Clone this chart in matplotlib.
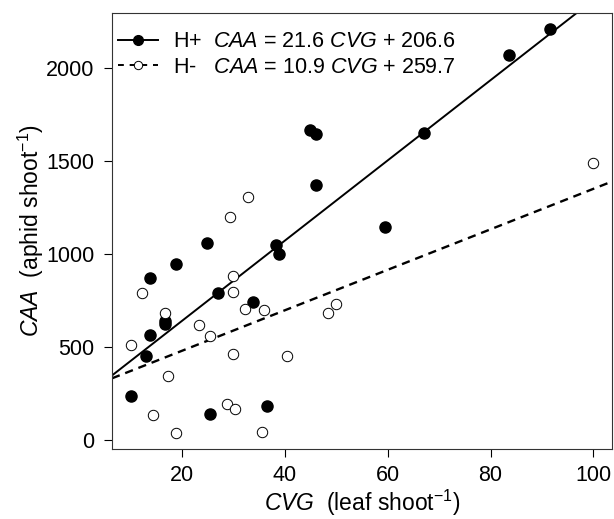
import numpy as np
import matplotlib
matplotlib.use("Agg")
from matplotlib import pyplot as plt
from matplotlib.lines import Line2D

plt.rcParams['font.family'] = ['Liberation Sans', 'DejaVu Sans']
plt.rcParams['mathtext.fontset'] = 'custom'
plt.rcParams['mathtext.rm'] = 'Liberation Sans'
plt.rcParams['mathtext.it'] = 'Liberation Sans:italic'

# H+ (filled points)
cvg_hplus = [44.8, 46.0, 46.0, 24.8, 18.8, 38.2, 38.8, 13.8, 27.1, 33.8, 16.8,
             16.8, 13.8, 13.0, 10.0, 25.5, 36.5, 91.5, 83.6, 67.0, 59.4]
caa_hplus = [1665, 1643, 1368, 1056, 943, 1049, 1000, 868, 791, 741, 639,
             621, 562, 448, 236, 138, 183, 2209, 2071, 1649, 1144]

# H- (open points)
cvg_hminus = [32.9, 29.4, 29.9, 12.3, 29.9, 32.3, 35.9, 16.8, 23.4, 25.5, 10.0,
              29.9, 40.5, 17.3, 14.4, 28.8, 30.3, 18.8, 35.5, 48.3, 49.9, 100.0]
caa_hminus = [1303, 1196, 882, 791, 793, 704, 698, 680, 616, 558, 507,
              460, 448, 340, 134, 193, 166, 36, 39, 680, 732, 1491]

# regression fits (slope, intercept)
fit_hplus = (21.6, 206.6)
fit_hminus = (10.9, 259.7)

x_ticks = [20, 40, 60, 80, 100]
y_ticks = [0, 500, 1000, 1500, 2000]

fig = plt.figure(figsize=(6.14, 5.19), dpi=100)
ax = fig.add_axes([112 / 614, 1 - 449 / 519, 500 / 614, 436 / 519])

ax.plot(cvg_hplus, caa_hplus, linestyle="none", marker="o", markersize=8,
        markerfacecolor="black", markeredgecolor="black", zorder=3)
ax.plot(cvg_hminus, caa_hminus, linestyle="none", marker="o", markersize=7.5,
        markerfacecolor="white", markeredgecolor="black", markeredgewidth=0.7, zorder=3)

ax.axline((0, fit_hplus[1]), slope=fit_hplus[0], color="black", linewidth=1.4)
ax.axline((0, fit_hminus[1]), slope=fit_hminus[0], color="black", linewidth=1.7,
          linestyle=(0, (3.5, 2.5)))

# R-style 4% axis extension
all_x = cvg_hplus + cvg_hminus
all_y = caa_hplus + caa_hminus
dx = (max(all_x) - min(all_x)) * 0.04
dy = (max(all_y) - min(all_y)) * 0.04
ax.set_xlim(min(all_x) - dx, max(all_x) + dx)
ax.set_ylim(min(all_y) - dy, max(all_y) + dy)

ax.set_xticks(x_ticks)
ax.set_yticks(y_ticks)
ax.tick_params(direction="out", length=6, width=0.8, labelsize=15.5, pad=6.5)
ax.tick_params(axis="x", pad=5.5)
for s in ax.spines.values():
    s.set_linewidth(0.8)
    s.set_color("#333333")

ax.set_xlabel(r"$\it{CVG}$  (leaf shoot$^{-1}$)", fontsize=16.5, labelpad=1)
ax.set_ylabel(r"$\it{CAA}$  (aphid shoot$^{-1}$)", fontsize=16.5, labelpad=0.5)

handles = [
    Line2D([], [], color="black", linewidth=1.4, marker="o", markersize=7,
           markerfacecolor="black"),
    Line2D([], [], color="black", linewidth=1.4, linestyle=(0, (3, 3)), marker="o",
           markersize=6, markerfacecolor="white", markeredgewidth=0.7),
]
labels = [
    r"H+  $\it{CAA}$ = %.1f $\it{CVG}$ + %.1f" % fit_hplus,
    r"H-   $\it{CAA}$ = %.1f $\it{CVG}$ + %.1f" % fit_hminus,
]
ax.legend(handles, labels, loc="upper left", bbox_to_anchor=(0.012, 0.958),
          frameon=False, fontsize=15.5, handlelength=1.85, handletextpad=0.7,
          labelspacing=0.2, borderaxespad=0, borderpad=0)

fig.savefig("out.png", dpi=100)
